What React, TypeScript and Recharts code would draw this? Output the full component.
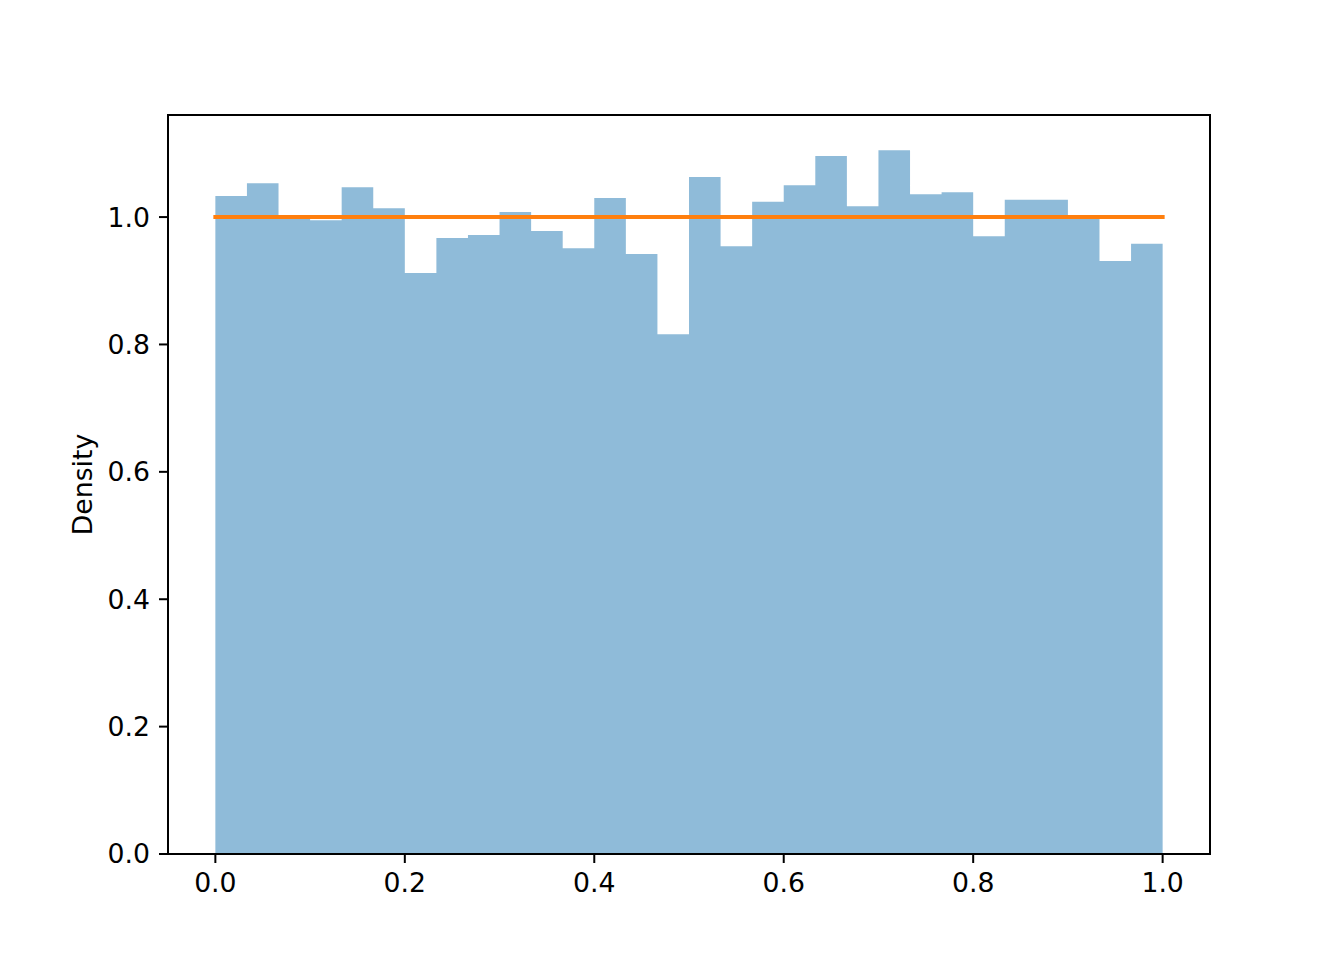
import React from 'react';
import { ComposedChart, Area, Line, XAxis, YAxis, ReferenceArea } from 'recharts';

// Histogram (density) of 30 equal bins over [0, 1]
const BIN_COUNT = 30;
const densityValues = [
  1.033, 1.053, 1.001, 0.995, 1.047, 1.014, 0.912, 0.967, 0.972, 1.008,
  0.978, 0.951, 1.030, 0.942, 0.816, 1.063, 0.954, 1.024, 1.050, 1.096,
  1.017, 1.105, 1.036, 1.039, 0.970, 1.027, 1.027, 0.999, 0.931, 0.958,
];
// Uniform pdf line
const pdfX = [0, 1];
const pdfY = [1, 1];

const xTicks = [0, 0.2, 0.4, 0.6, 0.8, 1.0];
const yTicks = [0, 0.2, 0.4, 0.6, 0.8, 1.0];
const xDomain = [-0.05, 1.05];
const yDomain = [0, 1.105 * 1.05];

const histData = [
  ...densityValues.map((d, i) => ({ x: i / BIN_COUNT, density: d })),
  { x: 1, density: densityValues[densityValues.length - 1] },
];
const pdfData = pdfX.map((x, i) => ({ x, y: pdfY[i] }));

const FONT = { fontFamily: 'DejaVu Sans', fontSize: 26.7, fill: '#000' };
const fmt = (v: number) => v.toFixed(1);

export default function App() {
  return (
    <div style={{ position: 'absolute', left: 0, top: 0, width: 1344, height: 960, background: '#fff' }}>
      <ComposedChart
        width={1344}
        height={960}
        data={histData}
        margin={{ top: 115, right: 134, bottom: 0, left: 0 }}
      >
        <XAxis
          xAxisId="main"
          type="number"
          dataKey="x"
          domain={xDomain}
          ticks={xTicks}
          tickFormatter={fmt}
          allowDataOverflow
          height={106}
          tick={FONT}
          tickSize={9}
          tickMargin={10.5}
          axisLine={{ stroke: '#000', strokeWidth: 2 }}
          tickLine={{ stroke: '#000', strokeWidth: 2 }}
        />
        <YAxis
          yAxisId="main"
          type="number"
          domain={yDomain}
          ticks={yTicks}
          tickFormatter={fmt}
          allowDataOverflow
          width={168}
          tick={FONT}
          tickSize={9}
          tickMargin={9}
          axisLine={{ stroke: '#000', strokeWidth: 2 }}
          tickLine={{ stroke: '#000', strokeWidth: 2 }}
          label={{
            value: 'Density',
            angle: -90,
            position: 'insideLeft',
            offset: 83,
            style: { textAnchor: 'middle', fontFamily: 'DejaVu Sans', fontSize: 26.7, fill: '#000' },
          }}
        />
        <Area
          xAxisId="main"
          yAxisId="main"
          type="stepAfter"
          dataKey="density"
          stroke="none"
          fill="#1f77b4"
          fillOpacity={0.5}
          baseValue={0}
          isAnimationActive={false}
          dot={false}
          activeDot={false}
        />
        <Line
          xAxisId="main"
          yAxisId="main"
          data={pdfData}
          dataKey="y"
          type="linear"
          stroke="#ff7f0e"
          strokeWidth={4}
          strokeLinecap="square"
          dot={false}
          activeDot={false}
          isAnimationActive={false}
        />
        <ReferenceArea
          xAxisId="main"
          yAxisId="main"
          x1={xDomain[0]}
          x2={xDomain[1]}
          y1={yDomain[0]}
          y2={yDomain[1]}
          fill="none"
          fillOpacity={0}
          stroke="#000"
          strokeWidth={2}
          ifOverflow="visible"
        />
      </ComposedChart>
    </div>
  );
}
